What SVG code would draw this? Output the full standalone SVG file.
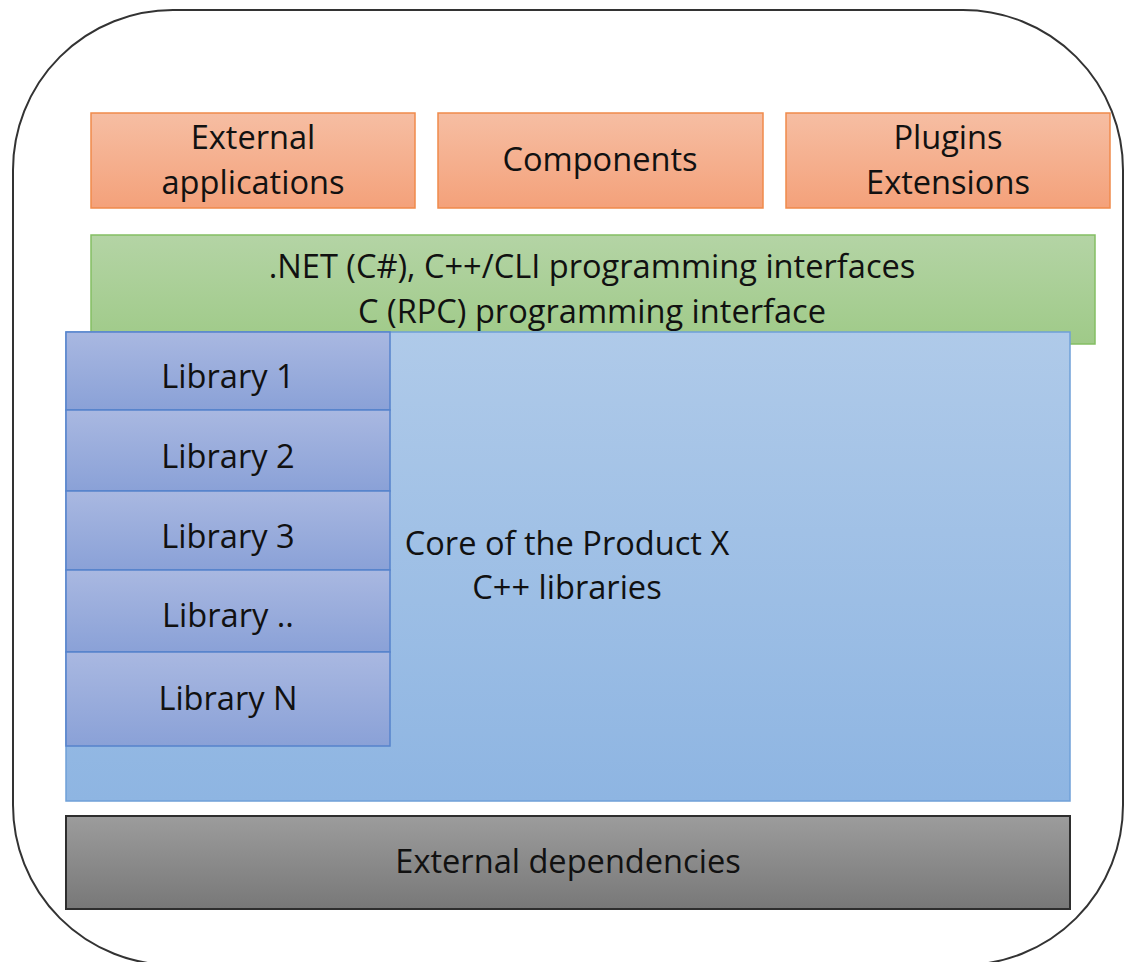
<svg xmlns="http://www.w3.org/2000/svg" width="1127" height="962" viewBox="0 0 1127 962">
<defs>
<linearGradient id="gOr" x1="0" y1="0" x2="0" y2="1"><stop offset="0" stop-color="#F6BEA3"/><stop offset="1" stop-color="#F4A17A"/></linearGradient>
<linearGradient id="gGr" x1="0" y1="0" x2="0" y2="1"><stop offset="0" stop-color="#B4D4A5"/><stop offset="1" stop-color="#9FCA88"/></linearGradient>
<linearGradient id="gBl" x1="0" y1="0" x2="0" y2="1"><stop offset="0" stop-color="#AFCAE9"/><stop offset="1" stop-color="#8EB5E2"/></linearGradient>
<linearGradient id="gLb" x1="0" y1="0" x2="0" y2="1"><stop offset="0" stop-color="#A9B8E1"/><stop offset="1" stop-color="#8AA1D7"/></linearGradient>
<linearGradient id="gGy" x1="0" y1="0" x2="0" y2="1"><stop offset="0" stop-color="#9C9C9C"/><stop offset="1" stop-color="#787878"/></linearGradient>
</defs>
<style>
text{font-family:"Open Sans","Noto Sans","Liberation Sans",sans-serif;font-size:32.6px;fill:#111;text-anchor:middle}
.or{fill:url(#gOr);stroke:#F08A4B;stroke-width:1.5}
.gr{fill:url(#gGr);stroke:#84BE63;stroke-width:1.5}
.bl{fill:url(#gBl);stroke:#6FA0D8;stroke-width:1.5}
.lb{fill:url(#gLb);stroke:#5683CC;stroke-width:1.5}
.gy{fill:url(#gGy);stroke:#2E2E2E;stroke-width:2}
</style>
<rect id="outer" x="13" y="10" width="1110" height="955" rx="160" ry="160" fill="#fff" stroke="#333" stroke-width="2"/>
<g id="ext-apps"><rect class="or" x="91" y="113" width="324" height="95"/><text x="253" y="149">External</text><text x="253" y="194">applications</text></g>
<g id="components"><rect class="or" x="438" y="113" width="325" height="95"/><text x="600" y="171">Components</text></g>
<g id="plugins"><rect class="or" x="786" y="113" width="324" height="95"/><text x="948" y="149">Plugins</text><text x="948" y="194">Extensions</text></g>
<g id="interfaces"><rect class="gr" x="91" y="235" width="1004" height="109"/><text x="592" y="278">.NET (C#), C++/CLI programming interfaces</text><text x="592" y="323">C (RPC) programming interface</text></g>
<g id="core"><rect class="bl" x="66" y="332" width="1004" height="469"/><text x="567" y="555">Core of the Product X</text><text x="567" y="599">C++ libraries</text></g>
<g id="lib1"><rect class="lb" x="66" y="332" width="324" height="78"/><text x="228" y="388">Library 1</text></g>
<g id="lib2"><rect class="lb" x="66" y="410" width="324" height="81"/><text x="228" y="468">Library 2</text></g>
<g id="lib3"><rect class="lb" x="66" y="491" width="324" height="79"/><text x="228" y="548">Library 3</text></g>
<g id="libdots"><rect class="lb" x="66" y="570" width="324" height="82"/><text x="228" y="627">Library ..</text></g>
<g id="libN"><rect class="lb" x="66" y="652" width="324" height="94"/><text x="228" y="710">Library N</text></g>
<g id="extdeps"><rect class="gy" x="66" y="816" width="1004" height="93"/><text x="568" y="873">External dependencies</text></g>
<g id="connectors"/>
</svg>
